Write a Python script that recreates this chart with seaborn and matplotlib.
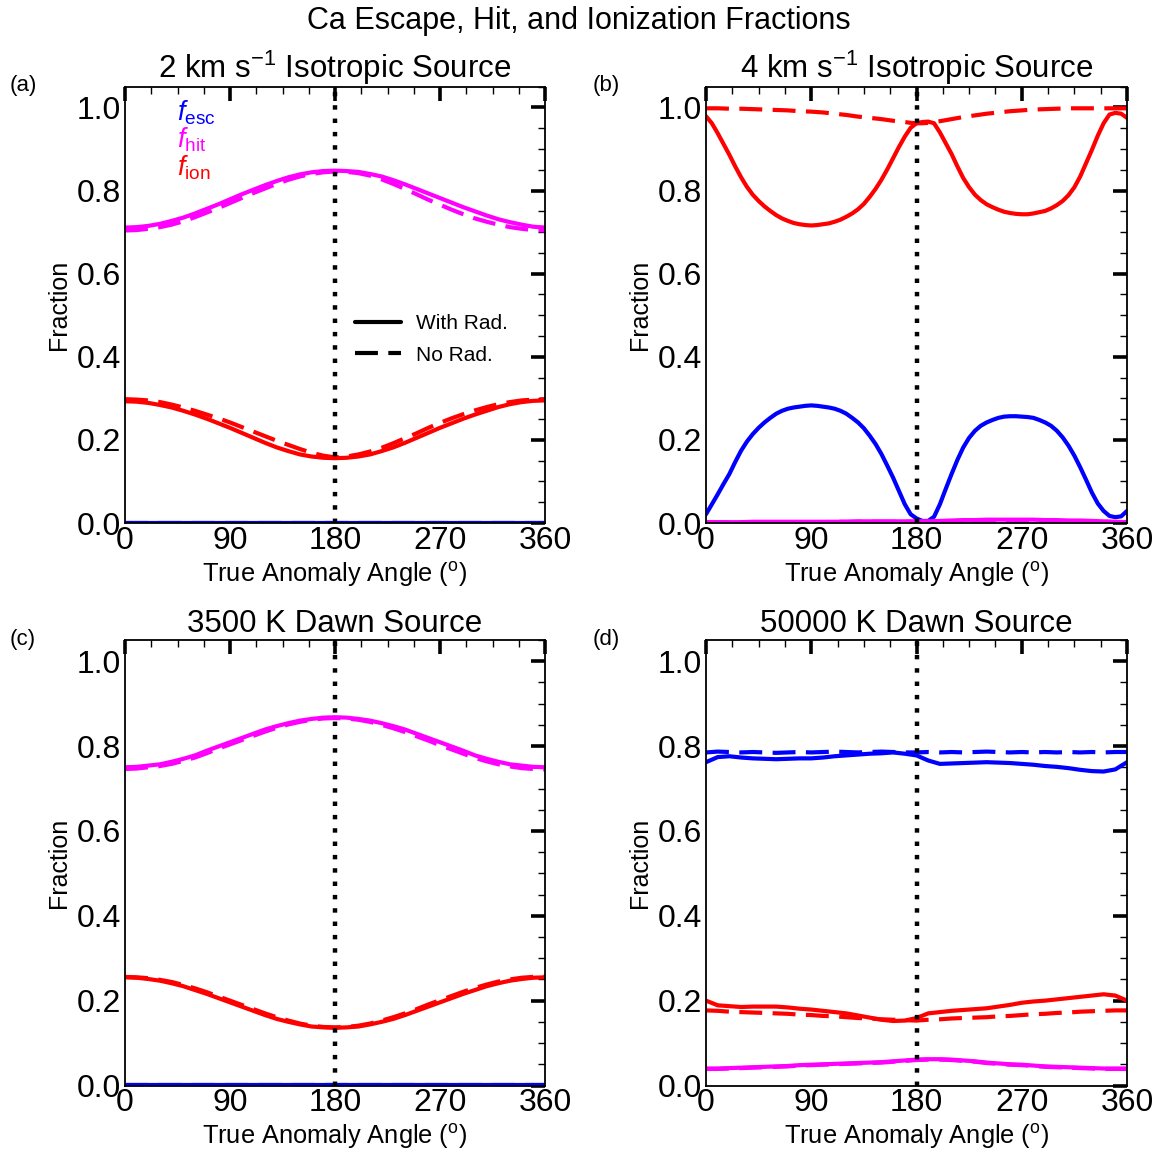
import numpy as np
import pandas as pd
import matplotlib
matplotlib.use("Agg")
import matplotlib.pyplot as plt
from matplotlib.ticker import MultipleLocator, FormatStrFormatter
from matplotlib.lines import Line2D
import seaborn as sns

# ---------------- data ----------------
ANG10 = list(range(0, 361, 10))
ANG5 = list(range(0, 361, 5))
ANG_B = [0, 5, 10, 20, 30, 40, 50, 60, 70, 80, 90, 100, 110, 120, 130, 140, 150, 160, 170, 175,
         180, 185, 190, 195, 200, 210, 220, 230, 240, 250, 260, 270, 280, 290, 300, 310, 320, 330,
         340, 345, 350, 355, 360]

# (a) 2 km/s isotropic
a_esc_rad = [0.001] * 37
a_esc_norad = [0.001] * 37
a_hit_rad = [0.711, 0.712, 0.715, 0.720, 0.727, 0.735, 0.745, 0.756, 0.767, 0.779, 0.791, 0.802, 0.813,
             0.823, 0.832, 0.839, 0.844, 0.847, 0.848, 0.847, 0.845, 0.840, 0.834, 0.825, 0.815, 0.804,
             0.793, 0.782, 0.771, 0.760, 0.750, 0.740, 0.731, 0.724, 0.718, 0.713, 0.711]
a_hit_norad = [0.704, 0.705, 0.708, 0.712, 0.718, 0.726, 0.736, 0.747, 0.758, 0.770, 0.782, 0.794, 0.805,
               0.816, 0.826, 0.834, 0.840, 0.844, 0.846, 0.845, 0.842, 0.836, 0.827, 0.816, 0.804, 0.791,
               0.778, 0.766, 0.754, 0.743, 0.733, 0.725, 0.718, 0.712, 0.708, 0.705, 0.704]
a_ion_rad = [0.293, 0.292, 0.289, 0.284, 0.278, 0.270, 0.261, 0.251, 0.240, 0.229, 0.217, 0.205, 0.193,
             0.182, 0.173, 0.165, 0.160, 0.157, 0.156, 0.157, 0.160, 0.165, 0.173, 0.182, 0.193, 0.205,
             0.217, 0.229, 0.240, 0.251, 0.261, 0.270, 0.279, 0.286, 0.291, 0.294, 0.295]
a_ion_norad = [0.298, 0.297, 0.295, 0.291, 0.285, 0.278, 0.270, 0.261, 0.252, 0.242, 0.231, 0.220, 0.209,
               0.198, 0.188, 0.178, 0.169, 0.162, 0.158, 0.160, 0.165, 0.172, 0.181, 0.192, 0.204, 0.216,
               0.229, 0.241, 0.252, 0.262, 0.271, 0.279, 0.286, 0.291, 0.295, 0.297, 0.298]

# (b) 4 km/s isotropic
b_esc_rad = [0.021, 0.045, 0.069, 0.094, 0.118, 0.147, 0.174, 0.196, 0.214, 0.229, 0.242, 0.253, 0.263,
             0.270, 0.275, 0.278, 0.280, 0.282, 0.283, 0.282, 0.280, 0.278, 0.275, 0.270, 0.263, 0.253,
             0.242, 0.228, 0.210, 0.190, 0.166, 0.138, 0.109, 0.077, 0.045, 0.021, 0.011, 0.005, 0.005,
             0.015, 0.045, 0.082, 0.118, 0.152, 0.182, 0.205, 0.222, 0.234, 0.242, 0.248, 0.253, 0.256,
             0.257, 0.257, 0.256, 0.255, 0.253, 0.248, 0.242, 0.234, 0.222, 0.206, 0.186, 0.162, 0.134,
             0.104, 0.073, 0.047, 0.029, 0.017, 0.014, 0.016, 0.029]
b_ion_rad = [0.979, 0.962, 0.938, 0.912, 0.886, 0.858, 0.832, 0.809, 0.790, 0.775, 0.762, 0.751, 0.741,
             0.733, 0.727, 0.722, 0.719, 0.717, 0.716, 0.717, 0.719, 0.721, 0.725, 0.730, 0.737, 0.745,
             0.755, 0.768, 0.785, 0.804, 0.826, 0.851, 0.878, 0.905, 0.930, 0.951, 0.962, 0.965, 0.966,
             0.962, 0.940, 0.914, 0.888, 0.858, 0.830, 0.808, 0.790, 0.777, 0.767, 0.760, 0.754, 0.749,
             0.746, 0.744, 0.743, 0.743, 0.745, 0.748, 0.751, 0.757, 0.765, 0.775, 0.789, 0.808, 0.834,
             0.866, 0.898, 0.932, 0.962, 0.983, 0.987, 0.985, 0.975]
b_ion_norad = [0.998, 0.998, 0.998, 0.997, 0.997, 0.996, 0.995, 0.994, 0.993, 0.991, 0.990, 0.988, 0.985,
               0.982, 0.978, 0.975, 0.972, 0.968, 0.965, 0.963, 0.962, 0.962, 0.963, 0.965, 0.967, 0.972,
               0.977, 0.981, 0.985, 0.988, 0.991, 0.993, 0.995, 0.996, 0.997, 0.998, 0.998, 0.998, 0.998,
               0.998, 0.998, 0.998, 0.998]
b_esc_norad = [0.001] * 37
b_hit_rad = [0.002, 0.002, 0.002, 0.002, 0.003, 0.003, 0.003, 0.003, 0.003, 0.003, 0.003, 0.003, 0.003,
             0.004, 0.004, 0.004, 0.004, 0.004, 0.004, 0.004, 0.005, 0.006, 0.007, 0.007, 0.008, 0.008,
             0.008, 0.008, 0.008, 0.007, 0.007, 0.006, 0.006, 0.005, 0.004, 0.003, 0.002]
b_hit_norad = [0.002, 0.002, 0.002, 0.002, 0.002, 0.002, 0.002, 0.002, 0.002, 0.002, 0.002, 0.003, 0.003,
               0.003, 0.003, 0.003, 0.003, 0.003, 0.003, 0.003, 0.004, 0.004, 0.005, 0.005, 0.005, 0.005,
               0.005, 0.005, 0.005, 0.005, 0.004, 0.004, 0.004, 0.003, 0.003, 0.002, 0.002]

# (c) 3500 K dawn
c_esc_rad = [0.001] * 37
c_esc_norad = [0.001] * 37
c_hit_rad = [0.750, 0.751, 0.754, 0.757, 0.763, 0.770, 0.778, 0.789, 0.799, 0.809, 0.819, 0.829, 0.839,
             0.847, 0.854, 0.860, 0.864, 0.867, 0.868, 0.867, 0.864, 0.860, 0.854, 0.847, 0.839, 0.829,
             0.819, 0.809, 0.799, 0.789, 0.778, 0.770, 0.763, 0.757, 0.754, 0.751, 0.750]
c_hit_norad = [0.746, 0.747, 0.750, 0.753, 0.758, 0.765, 0.773, 0.783, 0.794, 0.804, 0.814, 0.824, 0.834,
               0.843, 0.851, 0.857, 0.862, 0.865, 0.866, 0.865, 0.862, 0.857, 0.850, 0.842, 0.833, 0.823,
               0.813, 0.802, 0.792, 0.782, 0.772, 0.764, 0.757, 0.752, 0.748, 0.746, 0.745]
c_ion_rad = [0.255, 0.254, 0.251, 0.247, 0.241, 0.234, 0.225, 0.216, 0.206, 0.196, 0.186, 0.176, 0.166,
             0.157, 0.150, 0.144, 0.139, 0.137, 0.136, 0.137, 0.139, 0.144, 0.150, 0.157, 0.166, 0.176,
             0.186, 0.196, 0.206, 0.216, 0.225, 0.234, 0.241, 0.247, 0.251, 0.254, 0.255]
c_ion_norad = [0.256, 0.255, 0.253, 0.249, 0.244, 0.237, 0.229, 0.220, 0.210, 0.200, 0.190, 0.180, 0.170,
               0.161, 0.153, 0.146, 0.141, 0.138, 0.137, 0.138, 0.141, 0.146, 0.153, 0.161, 0.170, 0.180,
               0.191, 0.201, 0.211, 0.221, 0.230, 0.238, 0.245, 0.250, 0.254, 0.256, 0.257]

# (d) 50000 K dawn
d_esc_rad = [0.762, 0.774, 0.776, 0.773, 0.771, 0.770, 0.769, 0.770, 0.771, 0.771, 0.773, 0.776, 0.778,
             0.780, 0.782, 0.783, 0.785, 0.782, 0.778, 0.766, 0.758, 0.759, 0.760, 0.761, 0.762, 0.761,
             0.760, 0.758, 0.756, 0.753, 0.751, 0.748, 0.744, 0.741, 0.740, 0.745, 0.762]
d_esc_norad = [0.785, 0.787, 0.786, 0.785, 0.786, 0.785, 0.784, 0.785, 0.786, 0.785, 0.786, 0.787, 0.786,
               0.785, 0.786, 0.787, 0.786, 0.785, 0.785, 0.786, 0.785, 0.786, 0.785, 0.786, 0.787, 0.786,
               0.785, 0.786, 0.785, 0.786, 0.785, 0.786, 0.785, 0.786, 0.785, 0.786, 0.786]
d_hit_rad = [0.040, 0.040, 0.041, 0.042, 0.043, 0.044, 0.045, 0.046, 0.048, 0.049, 0.050, 0.051, 0.052,
             0.053, 0.054, 0.055, 0.057, 0.059, 0.061, 0.062, 0.062, 0.061, 0.059, 0.057, 0.054, 0.052,
             0.050, 0.049, 0.047, 0.045, 0.044, 0.043, 0.042, 0.041, 0.040, 0.040, 0.040]
d_hit_norad = [0.039, 0.039, 0.040, 0.041, 0.042, 0.043, 0.044, 0.045, 0.047, 0.048, 0.049, 0.050, 0.051,
               0.052, 0.053, 0.054, 0.056, 0.058, 0.060, 0.061, 0.061, 0.060, 0.058, 0.056, 0.053, 0.051,
               0.049, 0.048, 0.046, 0.044, 0.043, 0.042, 0.041, 0.040, 0.039, 0.039, 0.039]
d_ion_rad = [0.200, 0.189, 0.187, 0.185, 0.186, 0.186, 0.186, 0.184, 0.181, 0.179, 0.176, 0.173, 0.170,
             0.165, 0.160, 0.155, 0.152, 0.153, 0.159, 0.170, 0.173, 0.176, 0.178, 0.180, 0.182, 0.186,
             0.190, 0.195, 0.198, 0.200, 0.203, 0.206, 0.209, 0.212, 0.215, 0.212, 0.200]
d_ion_norad = [0.177, 0.176, 0.174, 0.173, 0.172, 0.171, 0.170, 0.169, 0.167, 0.166, 0.164, 0.163, 0.161,
               0.159, 0.158, 0.156, 0.155, 0.154, 0.153, 0.155, 0.156, 0.158, 0.159, 0.160, 0.161, 0.163,
               0.164, 0.166, 0.168, 0.169, 0.171, 0.172, 0.174, 0.175, 0.176, 0.177, 0.177]

titles = ["2 km s$^{-1}$ Isotropic Source", "4 km s$^{-1}$ Isotropic Source",
          "3500 K Dawn Source", "50000 K Dawn Source"]
panel_tags = ["(a)", "(b)", "(c)", "(d)"]
x_ticks = [0, 90, 180, 270, 360]
y_ticks = [0.0, 0.2, 0.4, 0.6, 0.8, 1.0]

COL_ESC = "#0000ff"
COL_HIT = "#ff00ff"
COL_ION = "#ff0000"

panels = [
    [(ANG10, a_esc_rad, COL_ESC, "-"), (ANG10, a_esc_norad, COL_ESC, "--"),
     (ANG10, a_hit_rad, COL_HIT, "-"), (ANG10, a_hit_norad, COL_HIT, "--"),
     (ANG10, a_ion_rad, COL_ION, "-"), (ANG10, a_ion_norad, COL_ION, "--")],
    [(ANG5, b_esc_rad, COL_ESC, "-"), (ANG10, b_esc_norad, COL_ESC, "--"),
     (ANG10, b_hit_rad, COL_HIT, "-"), (ANG10, b_hit_norad, COL_HIT, "--"),
     (ANG5, b_ion_rad, COL_ION, "-"), (ANG_B, b_ion_norad, COL_ION, "--")],
    [(ANG10, c_esc_rad, COL_ESC, "-"), (ANG10, c_esc_norad, COL_ESC, "--"),
     (ANG10, c_hit_rad, COL_HIT, "-"), (ANG10, c_hit_norad, COL_HIT, "--"),
     (ANG10, c_ion_rad, COL_ION, "-"), (ANG10, c_ion_norad, COL_ION, "--")],
    [(ANG10, d_esc_rad, COL_ESC, "-"), (ANG10, d_esc_norad, COL_ESC, "--"),
     (ANG10, d_hit_rad, COL_HIT, "-"), (ANG10, d_hit_norad, COL_HIT, "--"),
     (ANG10, d_ion_rad, COL_ION, "-"), (ANG10, d_ion_norad, COL_ION, "--")],
]

# ---------------- style ----------------
sns.set_style("white")
plt.rcParams["font.family"] = ["Liberation Sans", "DejaVu Sans"]
plt.rcParams["mathtext.fontset"] = "custom"
plt.rcParams["mathtext.rm"] = "Liberation Sans"
plt.rcParams["mathtext.it"] = "Liberation Sans:italic"
plt.rcParams["mathtext.bf"] = "Liberation Sans:bold"
plt.rcParams["text.color"] = "black"
plt.rcParams["axes.labelcolor"] = "black"

DASH = (0, (5.5, 2.5))
DOT = (0, (1, 2))
LW = 3.0

fig = plt.figure(figsize=(11.58, 11.53), dpi=100)
W, H = 1158, 1153
rects = [
    (125, 86.7, 545, 523),
    (706, 86.7, 1127, 523),
    (125, 640, 545, 1085.5),
    (706, 640, 1127, 1085.5),
]
axes = []
for (x0, y0, x1, y1) in rects:
    ax = fig.add_axes([x0 / W, 1 - y1 / H, (x1 - x0) / W, (y1 - y0) / H])
    axes.append(ax)

for i, ax in enumerate(axes):
    for ang, vals, col, ls in panels[i]:
        sns.lineplot(x=ang, y=vals, ax=ax, color=col, linewidth=LW,
                     linestyle=(DASH if ls == "--" else "-"),
                     estimator=None, errorbar=None, sort=False)
    ax.axvline(180, color="black", linewidth=3.2, linestyle=DOT, zorder=10)
    ax.set_xlim(0, 360)
    ax.set_ylim(0, 1.05)
    ax.set_xticks(x_ticks)
    ax.set_yticks(y_ticks)
    ax.xaxis.set_minor_locator(MultipleLocator(22.5))
    ax.yaxis.set_minor_locator(MultipleLocator(0.05))
    ax.yaxis.set_major_formatter(FormatStrFormatter("%.1f"))
    ax.tick_params(which="both", direction="in", top=True, right=True, colors="black")
    ax.tick_params(which="major", length=10, width=2.6, labelsize=23)
    ax.tick_params(which="minor", length=5, width=1.0)
    ax.tick_params(axis="x", which="major", pad=2)
    ax.tick_params(axis="y", which="major", pad=3)
    for sp in ax.spines.values():
        sp.set_linewidth(1.3)
        sp.set_color("black")
    ax.set_xlabel("True Anomaly Angle ($^{\\rm o}$)", fontsize=18.3, labelpad=3)
    ax.set_ylabel("Fraction", fontsize=18, labelpad=4)
    ax.set_title(titles[i], fontsize=22.5, pad=6)

# panel tags
fig.text(10 / W, 1 - 85 / H, "(a)", fontsize=16, va="center", ha="left")
fig.text(593 / W, 1 - 85 / H, "(b)", fontsize=16, va="center", ha="left")
fig.text(10 / W, 1 - 640 / H, "(c)", fontsize=16, va="center", ha="left")
fig.text(593 / W, 1 - 640 / H, "(d)", fontsize=16, va="center", ha="left")

fig.suptitle("Ca Escape, Hit, and Ionization Fractions", fontsize=22, y=1 - 21 / H, va="center")

# colored text legend in panel (a)
axa = axes[0]
axa.text(0.124, 0.94, r"$f_{\mathrm{esc}}$", color=COL_ESC, fontsize=19.5, transform=axa.transAxes,
         va="center", ha="left")
axa.text(0.124, 0.878, r"$f_{\mathrm{hit}}$", color=COL_HIT, fontsize=19.5, transform=axa.transAxes,
         va="center", ha="left")
axa.text(0.124, 0.814, r"$f_{\mathrm{ion}}$", color=COL_ION, fontsize=19.5, transform=axa.transAxes,
         va="center", ha="left")

handles = [Line2D([], [], color="black", linewidth=LW, linestyle="-"),
           Line2D([], [], color="black", linewidth=LW, linestyle=DASH)]
axa.legend(handles, ["With Rad.", "No Rad."], loc="center left",
           bbox_to_anchor=(0.548, 0.421), frameon=False, fontsize=15,
           handlelength=2.2, handletextpad=0.7, labelspacing=0.6,
           borderpad=0, borderaxespad=0)

fig.savefig("out.png", dpi=100)
